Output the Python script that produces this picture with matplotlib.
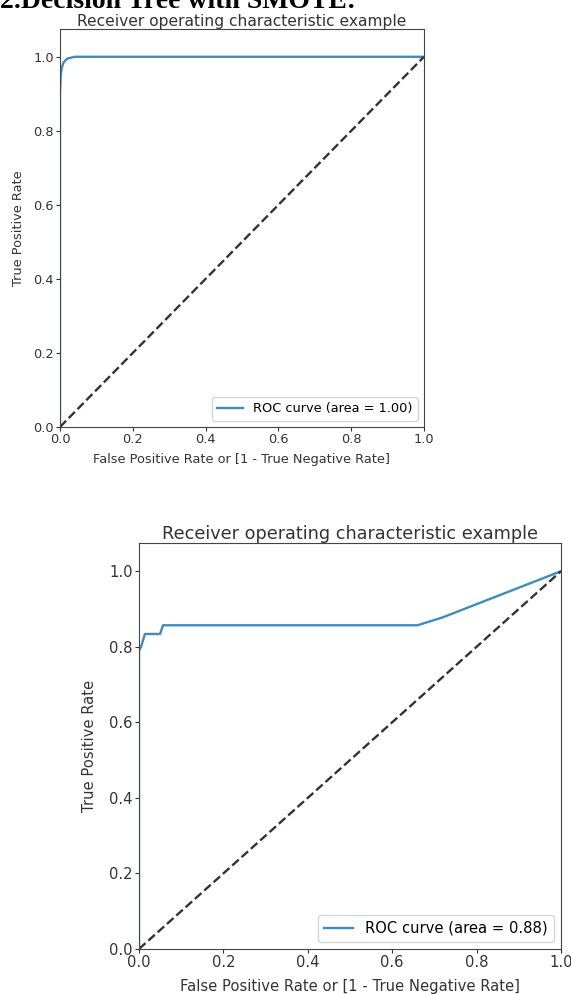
import matplotlib
matplotlib.use("Agg")
import matplotlib.pyplot as plt

# ROC data
fpr_top = [0.0, 0.0, 0.002, 0.005, 0.01, 0.02, 0.04, 1.0]
tpr_top = [0.0, 0.90, 0.95, 0.97, 0.985, 0.995, 1.0, 1.0]
auc_top = 1.00

fpr_bot = [0.0, 0.0, 0.005, 0.014, 0.05, 0.057, 0.66, 0.72, 1.0]
tpr_bot = [0.0, 0.79, 0.80, 0.834, 0.834, 0.857, 0.857, 0.878, 1.0]
auc_bot = 0.88

ticks = [0.0, 0.2, 0.4, 0.6, 0.8, 1.0]
line_color = "#3f8bc0"

fig = plt.figure(figsize=(5.71, 9.94), dpi=100)

fig.text(0.0, 0.9915, "2.Decision Tree with SMOTE:", family="Liberation Serif",
         fontweight="bold", fontsize=20, va="baseline", ha="left")


def roc_panel(rect, fpr, tpr, auc, fs, xpad, ypad, tpad):
    ax = fig.add_axes(rect)
    ax.plot(fpr, tpr, color=line_color, lw=1.7,
            label="ROC curve (area = %0.2f)" % auc)
    ax.plot([0, 1], [0, 1], "k--", lw=1.7, color="#333333")
    ax.set_xlim(0.0, 1.0)
    ax.set_ylim(0.0, 1.075)
    ax.set_xticks(ticks)
    ax.set_yticks(ticks)
    ax.tick_params(labelsize=fs, colors="#333333", length=3, pad=1.5)
    ax.set_xlabel("False Positive Rate or [1 - True Negative Rate]", fontsize=fs,
                  color="#333333", labelpad=xpad)
    ax.set_ylabel("True Positive Rate", fontsize=fs, color="#333333", labelpad=ypad)
    ax.set_title("Receiver operating characteristic example", fontsize=fs * 1.2,
                 color="#333333", pad=tpad)
    ax.legend(loc="lower right", fontsize=fs)
    for s in ax.spines.values():
        s.set_color("#444444")
    return ax


roc_panel([0.105, 0.5704, 0.6375, 0.4004], fpr_top, tpr_top, auc_top, 9.3, 5, 6, 1)
roc_panel([0.2434, 0.0453, 0.739, 0.4085], fpr_bot, tpr_bot, auc_bot, 10.6, 6, 9, 1)

plt.savefig("out.png", dpi=100)
